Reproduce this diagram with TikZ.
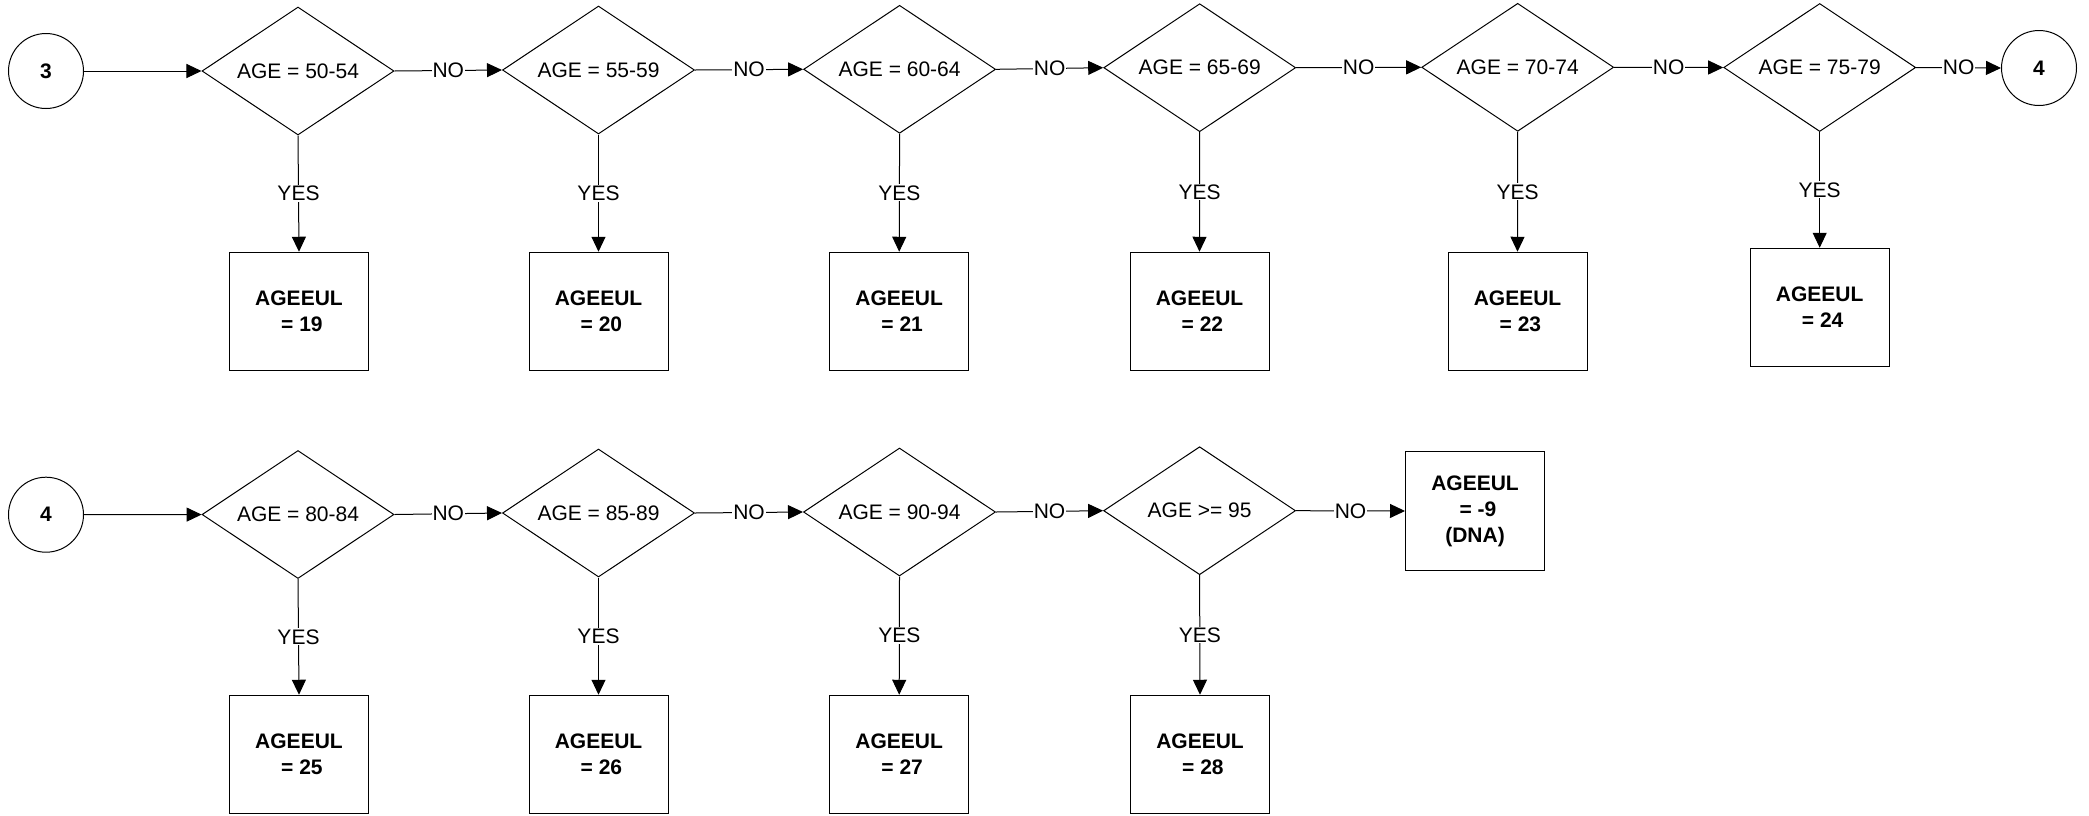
\documentclass[tikz,border=0pt]{standalone}
\usepackage{fontspec}
\setmainfont{Liberation Sans}
\usetikzlibrary{shapes.geometric,arrows.meta}
\tikzset{
  base/.style={draw=black, line width=1pt, font=\fontsize{21}{26}\selectfont},
  decision/.style={base, diamond, aspect=1.5, inner sep=2pt, minimum width=192pt, minimum height=128pt},
  result/.style={base, rectangle, align=center, minimum width=139pt, minimum height=118.5pt, font=\fontsize{21}{26}\selectfont\bfseries},
  conn/.style={base, circle, minimum size=75pt, inner sep=0pt, font=\fontsize{21}{26}\selectfont\bfseries},
  flow/.style={draw=black, line width=1pt, -{Triangle[length=15pt,width=14pt]}},
  lab/.style={fill=white, inner sep=1pt, font=\fontsize{21}{26}\selectfont}
}
\newcommand{\agv}[1]{AGEEUL\\\hspace*{0.28em}= #1}
\begin{document}
\begin{tikzpicture}[x=1pt, y=-1pt]
\useasboundingbox (0,0) rectangle (2089,815);
% row 1
\node[conn] (c3) at (46,71) {3};
\node[decision] (d1) at (298,71) {AGE = 50-54};
\node[decision] (d2) at (598.5,70) {AGE = 55-59};
\node[decision] (d3) at (899.6,69.3) {AGE = 60-64};
\node[decision] (d4) at (1199.7,67.7) {AGE = 65-69};
\node[decision] (d5) at (1517.7,67.3) {AGE = 70-74};
\node[decision] (d6) at (1819.7,67.5) {AGE = 75-79};
\node[conn] (c4a) at (2039,68) {4};
\node[result] (b19) at (299,311.5) {\agv{19}};
\node[result] (b20) at (598.5,311.5) {\agv{20}};
\node[result] (b21) at (899.2,311.5) {\agv{21}};
\node[result] (b22) at (1199.5,311.5) {\agv{22}};
\node[result] (b23) at (1517.5,311.5) {\agv{23}};
\node[result] (b24) at (1819.7,307.5) {\agv{24}};
% row 2
\node[conn] (c4b) at (46,514.7) {4};
\node[decision] (d7) at (298,514.5) {AGE = 80-84};
\node[decision] (d8) at (598.5,513) {AGE = 85-89};
\node[decision] (d9) at (899.5,512) {AGE = 90-94};
\node[decision] (d10) at (1199.6,510.7) {AGE >= 95};
\node[result] (bdna) at (1475,511) {AGEEUL\\\hspace*{0.28em}= -9\\(DNA)};
\node[result] (b25) at (299,754.5) {\agv{25}};
\node[result] (b26) at (598.5,754.5) {\agv{26}};
\node[result] (b27) at (899.2,754.5) {\agv{27}};
\node[result] (b28) at (1200,754.5) {\agv{28}};
% connectors row 1
\draw[flow] (c3) -- (d1);
\draw[flow] (d1.east) -- node[lab]{NO} (d2.west);
\draw[flow] (d2.east) -- node[lab]{NO} (d3.west);
\draw[flow] (d3.east) -- node[lab]{NO} (d4.west);
\draw[flow] (d4.east) -- node[lab]{NO} (d5.west);
\draw[flow] (d5.east) -- node[lab]{NO} (d6.west);
\draw[flow] (d6.east) -- node[lab]{NO} (c4a.west);
\draw[flow] (d1.south) -- node[lab]{YES} (b19.north);
\draw[flow] (d2.south) -- node[lab]{YES} (b20.north);
\draw[flow] (d3.south) -- node[lab]{YES} (b21.north);
\draw[flow] (d4.south) -- node[lab]{YES} (b22.north);
\draw[flow] (d5.south) -- node[lab]{YES} (b23.north);
\draw[flow] (d6.south) -- node[lab]{YES} (b24.north);
% connectors row 2
\draw[flow] (c4b) -- (d7);
\draw[flow] (d7.east) -- node[lab]{NO} (d8.west);
\draw[flow] (d8.east) -- node[lab]{NO} (d9.west);
\draw[flow] (d9.east) -- node[lab]{NO} (d10.west);
\draw[flow] (d10.east) -- node[lab]{NO} (bdna.west);
\draw[flow] (d7.south) -- node[lab]{YES} (b25.north);
\draw[flow] (d8.south) -- node[lab]{YES} (b26.north);
\draw[flow] (d9.south) -- node[lab]{YES} (b27.north);
\draw[flow] (d10.south) -- node[lab]{YES} (b28.north);
\end{tikzpicture}
\end{document}
